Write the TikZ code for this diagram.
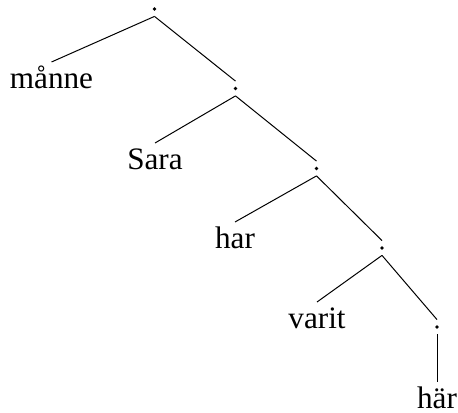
\documentclass[tikz,border=0pt]{standalone}
\usepackage{fontspec}
\setmainfont{Liberation Serif}
\begin{document}
\begin{tikzpicture}[x=0.5pt,y=-0.5pt,
  dotnode/.style={inner sep=0pt, minimum width=4pt, minimum height=7pt,
    path picture={\fill (path picture bounding box.center) circle (0.95pt);}},
  leaf/.style={anchor=north, inner sep=0pt, text height=13pt, text depth=3.5pt,
    font=\fontsize{15.6}{18}\selectfont},
  edge/.style={draw, line width=0.5pt}]
\useasboundingbox (0,0) rectangle (458,412);
\node[dotnode] (n1) at (154.5,9) {};
\node[dotnode] (n2) at (235.5,88.5) {};
\node[dotnode] (n3) at (316.5,168.5) {};
\node[dotnode] (n4) at (382,248) {};
\node[dotnode] (n5) at (437,327) {};
\node[leaf] (l1) at (51.5,62) {månne};
\node[leaf] (l2) at (155,143) {Sara};
\node[leaf] (l3) at (235,222) {har};
\node[leaf] (l4) at (317,302) {varit};
\node[leaf] (l5) at (437,382) {här};
\path[edge] (n1.south) -- (l1.north);
\path[edge] (n1.south) -- (n2.north);
\path[edge] (n2.south) -- (l2.north);
\path[edge] (n2.south) -- (n3.north);
\path[edge] (n3.south) -- (l3.north);
\path[edge] (n3.south) -- (n4.north);
\path[edge] (n4.south) -- (l4.north);
\path[edge] (n4.south) -- (n5.north);
\path[edge] (n5.south) -- (l5.north);
\end{tikzpicture}
\end{document}
